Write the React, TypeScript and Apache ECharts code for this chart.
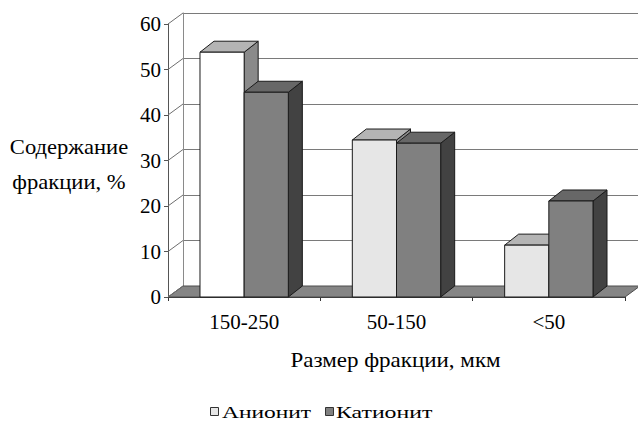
import React, { useEffect, useRef } from "react";
import * as echarts from "echarts";

// Fraction size categories and content (%) for both resins
const categories = ["150-250", "50-150", "<50"];
const seriesNames = ["Анионит", "Катионит"];
const anionValues = [53.8, 34.5, 11.4];
const cationValues = [45.0, 33.8, 21.1];
const yTicks = { min: 0, max: 60, interval: 10 };

const yAxisTitle = ["Содержание", "фракции, %"];
const xAxisTitle = "Размер фракции, мкм";

// Face colours of the 3D columns
const anionFront = ["#ffffff", "#e6e6e6", "#e6e6e6"];
const anionTop = "#b4b4b4";
const anionSide = "#8a8a8a";
const cationFront = "#808080";
const cationTop = "#676767";
const cationSide = "#424242";

const FONT = "Liberation Serif";

// Depth of the box (back wall offset) and of the columns
const WALL_DX = 15;
const WALL_DY = -11;
const BAR_DX = 14;
const BAR_DY = -11;
const BAR_RATIO = 0.29; // column width as share of category band

const FRONT = { left: 168, top: 24, width: 457, height: 273 };

function barRenderer(slot: number, fronts: string[], top: string, side: string) {
  return (params: any, api: any) => {
    const idx = api.value(0);
    const val = api.value(1);
    const [cx, yTop] = api.coord([idx, val]);
    const y0 = api.coord([idx, 0])[1];
    const band = api.size([1, 0])[0];
    const w = band * BAR_RATIO;
    const x0 = cx - w + slot * w;
    const x1 = x0 + w;
    const stroke = { stroke: "#1a1a1a", lineWidth: 1 };
    return {
      type: "group",
      children: [
        {
          type: "polygon",
          shape: {
            points: [
              [x1, yTop],
              [x1 + BAR_DX, yTop + BAR_DY],
              [x1 + BAR_DX, y0 + BAR_DY],
              [x1, y0],
            ],
          },
          style: { fill: side, ...stroke },
        },
        {
          type: "polygon",
          shape: {
            points: [
              [x0, yTop],
              [x1, yTop],
              [x1 + BAR_DX, yTop + BAR_DY],
              [x0 + BAR_DX, yTop + BAR_DY],
            ],
          },
          style: { fill: top, ...stroke },
        },
        {
          type: "rect",
          shape: { x: x0, y: yTop, width: w, height: y0 - yTop },
          style: { fill: fronts[idx % fronts.length], ...stroke },
        },
      ],
    };
  };
}

function floorRenderer(params: any, api: any) {
  const cs = params.coordSys;
  const y0 = api.coord([0, 0])[1];
  const xl = cs.x;
  const xr = cs.x + cs.width;
  return {
    type: "polygon",
    shape: {
      points: [
        [xl, y0],
        [xr, y0],
        [xr + WALL_DX, y0 + WALL_DY],
        [xl + WALL_DX, y0 + WALL_DY],
      ],
    },
    style: { fill: "#858585", stroke: "#4d4d4d", lineWidth: 1 },
  };
}

function depthLineRenderer(params: any, api: any) {
  const cs = params.coordSys;
  const y = api.coord([0, api.value(0)])[1];
  return {
    type: "line",
    shape: { x1: cs.x, y1: y, x2: cs.x + WALL_DX, y2: y + WALL_DY },
    style: { stroke: "#6e6e6e", lineWidth: 1 },
  };
}

function scaledText(text: string, x: number, y: number, size: number, sx: number, align = "center") {
  return {
    type: "text",
    x,
    y,
    scaleX: sx,
    style: {
      text,
      fontFamily: FONT,
      fontSize: size,
      fill: "#000",
      align,
      verticalAlign: "middle",
    },
  };
}

export default function App() {
  const ref = useRef<HTMLDivElement>(null);

  useEffect(() => {
    if (!ref.current) return;
    const chart = echarts.init(ref.current, null, { renderer: "svg" });

    const tickValues: number[] = [];
    for (let v = yTicks.min; v <= yTicks.max; v += yTicks.interval) tickValues.push(v);

    chart.setOption({
      animation: false,
      backgroundColor: "#ffffff",
      textStyle: { fontFamily: FONT },
      grid: [
        { ...FRONT, containLabel: false },
        {
          left: FRONT.left + WALL_DX,
          top: FRONT.top + WALL_DY,
          width: FRONT.width,
          height: FRONT.height,
          containLabel: false,
        },
      ],
      xAxis: [
        {
          type: "category",
          gridIndex: 0,
          data: categories,
          axisLine: { show: true, lineStyle: { color: "#333", width: 1 } },
          axisTick: { show: true, length: 4, lineStyle: { color: "#333" } },
          axisLabel: {
            fontFamily: FONT,
            fontSize: 21,
            color: "#000",
            margin: 14,
          },
          splitLine: { show: false },
        },
        {
          type: "category",
          gridIndex: 1,
          data: categories,
          show: false,
        },
      ],
      yAxis: [
        {
          type: "value",
          gridIndex: 0,
          min: yTicks.min,
          max: yTicks.max,
          interval: yTicks.interval,
          axisLine: { show: true, lineStyle: { color: "#555", width: 1 } },
          axisTick: { show: true, length: 4, lineStyle: { color: "#555" } },
          axisLabel: {
            fontFamily: FONT,
            fontSize: 21,
            color: "#000",
            margin: 7,
          },
          splitLine: { show: false },
        },
        {
          type: "value",
          gridIndex: 1,
          min: yTicks.min,
          max: yTicks.max,
          interval: yTicks.interval,
          axisLine: { show: true, lineStyle: { color: "#8a8a8a", width: 1 } },
          axisTick: { show: false },
          axisLabel: { show: false },
          splitLine: { show: true, lineStyle: { color: "#7a7a7a", width: 1 } },
        },
      ],
      series: [
        {
          type: "custom",
          name: "floor",
          xAxisIndex: 0,
          yAxisIndex: 0,
          data: [[0]],
          renderItem: floorRenderer,
          z: 1,
          silent: true,
        },
        {
          type: "custom",
          name: "depth",
          xAxisIndex: 0,
          yAxisIndex: 0,
          data: tickValues.map((v) => [v]),
          renderItem: depthLineRenderer,
          z: 1,
          silent: true,
        },
        {
          type: "custom",
          name: seriesNames[0],
          xAxisIndex: 0,
          yAxisIndex: 0,
          data: anionValues.map((v, i) => [i, v]),
          renderItem: barRenderer(0, anionFront, anionTop, anionSide),
          z: 3,
        },
        {
          type: "custom",
          name: seriesNames[1],
          xAxisIndex: 0,
          yAxisIndex: 0,
          data: cationValues.map((v, i) => [i, v]),
          renderItem: barRenderer(1, [cationFront], cationTop, cationSide),
          z: 4,
        },
      ],
      graphic: [
        scaledText(yAxisTitle[0], 69, 147, 20, 1.13),
        scaledText(yAxisTitle[1], 69, 182, 20, 1.13),
        scaledText(xAxisTitle, 395.5, 361, 20, 1.15),
        {
          type: "rect",
          shape: { x: 210.5, y: 407.5, width: 8, height: 8 },
          style: { fill: "#e6e6e6", stroke: "#333", lineWidth: 1 },
        },
        scaledText(seriesNames[0], 222, 412, 17, 1.38, "left"),
        {
          type: "rect",
          shape: { x: 325.5, y: 407.5, width: 8, height: 8 },
          style: { fill: cationFront, stroke: "#333", lineWidth: 1 },
        },
        scaledText(seriesNames[1], 336, 412, 17, 1.4, "left"),
      ],
    });

    return () => chart.dispose();
  }, []);

  return (
    <div
      ref={ref}
      style={{ position: "fixed", left: 0, top: 0, width: 638, height: 421 }}
    />
  );
}
